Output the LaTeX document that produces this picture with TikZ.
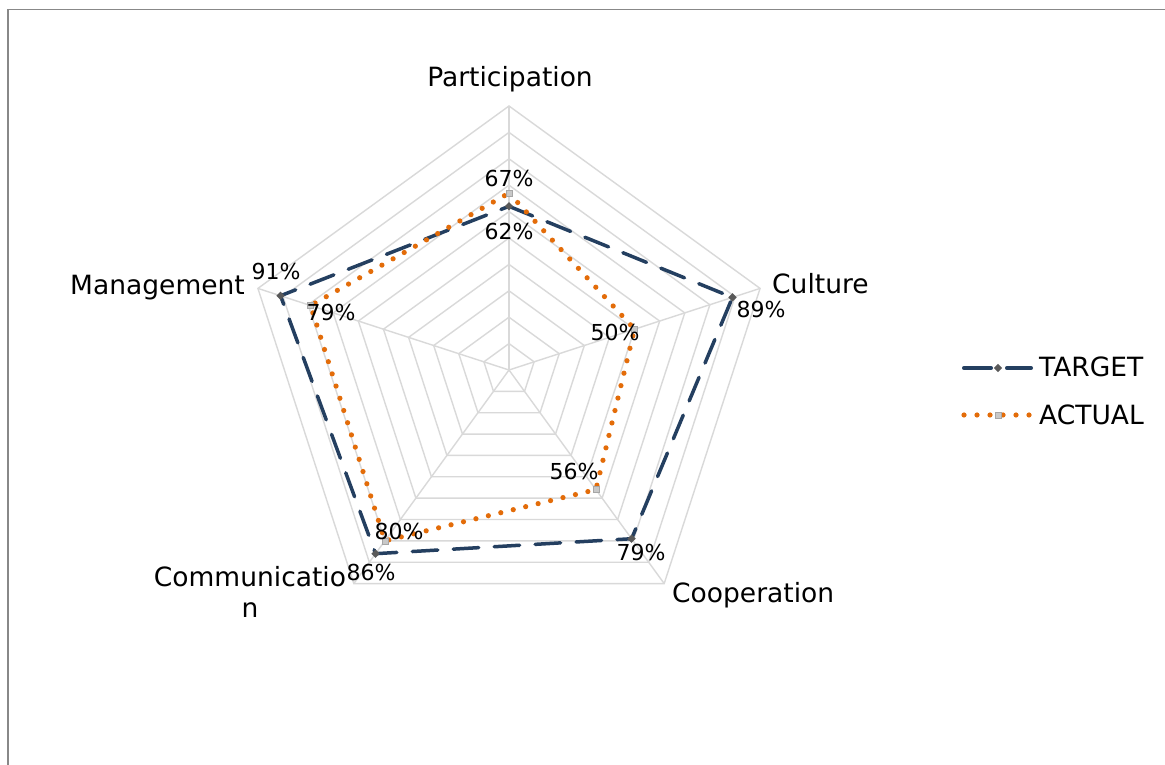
\documentclass[tikz,border=0pt]{standalone}
\usepackage{fontspec}
\setmainfont{DejaVu Sans}
\usetikzlibrary{calc,shapes.geometric}
\definecolor{gridc}{HTML}{D9D9D9}
\definecolor{navy}{HTML}{243F60}
\definecolor{orng}{HTML}{E36C09}
\definecolor{markone}{HTML}{595959}
\definecolor{marktwo}{HTML}{C8C8C8}
\definecolor{framec}{HTML}{888888}
\begin{document}
\begin{tikzpicture}[x=1pt,y=1pt,
  gridline/.style={draw=gridc, line width=1.4pt},
  tgtline/.style={draw=navy, line width=3.5pt, dash pattern=on 25.5pt off 15.5pt, line cap=round, line join=round},
  actline/.style={draw=orng, line width=5.2pt, dash pattern=on 0pt off 12.8pt, line cap=round, line join=round},
  tgtmark/.style={diamond, fill=markone, inner sep=0pt, minimum size=8.5pt},
  actmark/.style={rectangle, fill=marktwo, draw=gray!70, line width=0.5pt, inner sep=0pt, minimum size=6pt},
  catlabel/.style={font=\fontsize{26.5}{31}\selectfont, inner sep=0pt},
  vallabel/.style={font=\fontsize{22}{26}\selectfont, inner sep=0pt, text height=15.5pt, text depth=0pt, anchor=center},
  legtext/.style={font=\fontsize{26.5}{31}\selectfont, inner sep=0pt, anchor=base west}
]
\useasboundingbox (0,0) rectangle (1165,765);
\fill[white] (0,0) rectangle (1165,765);
% chart frame
\draw[draw=framec, line width=1.6pt] (7.7,0) -- (7.7,755.3) -- (1165,755.3);

% grid
\begin{scope}[shift={(509,395)}]
  \foreach \k in {1,...,10}{
    \pgfmathsetmacro\rr{\k*26.4}
    \draw[gridline] (90:\rr) -- (18:\rr) -- (-54:\rr) -- (-126:\rr) -- (162:\rr) -- cycle;
  }
  \foreach \a in {90,18,-54,-126,162}
    \draw[gridline] (0,0) -- (\a:264);

  % data points
  \coordinate (t1) at (90:163.68);
  \coordinate (t2) at (18:234.96);
  \coordinate (t3) at (-54:208.56);
  \coordinate (t4) at (-126:227.04);
  \coordinate (t5) at (162:240.24);
  \coordinate (a1) at (90:176.88);
  \coordinate (a2) at (18:132);
  \coordinate (a3) at (-54:147.84);
  \coordinate (a4) at (-126:211.2);
  \coordinate (a5) at (162:208.56);
\end{scope}

% TARGET series
\draw[tgtline] (t1) -- (t2) -- (t3) -- (t4) -- (t5) -- cycle;
\foreach \i in {1,...,5} \node[tgtmark] (mt\i) at (t\i) {};

% ACTUAL series
\draw[actline] (a1) -- (a2) -- (a3) -- (a4) -- (a5) -- cycle;
\foreach \i in {1,...,5} \node[actmark] (ma\i) at (a\i) {};

% data labels
\node[vallabel] (lt1) at (509,533) {62\%};
\node[vallabel] (la1) at (509,586) {67\%};
\node[vallabel] (lt2) at (761,455) {89\%};
\node[vallabel] (la2) at (615,432) {50\%};
\node[vallabel] (lt3) at (641,212) {79\%};
\node[vallabel] (la3) at (574,293) {56\%};
\node[vallabel] (lt4) at (371,192) {86\%};
\node[vallabel] (la4) at (399,233) {80\%};
\node[vallabel] (lt5) at (276,493) {91\%};
\node[vallabel] (la5) at (331,452) {79\%};

% category labels
\node[catlabel, anchor=base] (cpart) at (510,678) {Participation};
\node[catlabel, anchor=base west] (ccult) at (772,471) {Culture};
\node[catlabel, anchor=base west] (ccoop) at (672,162) {Cooperation};
\node[catlabel, anchor=base east] (cmgmt) at (245,470) {Management};
\node[catlabel, anchor=base, align=center] (ccomm) at (250,147) {Communicatio\\n};

% legend
\coordinate (lgt1) at (963.75,397);
\coordinate (lgt2) at (1031.25,397);
\draw[tgtline, dash pattern=on 27.5pt off 15.5pt] (lgt1) -- (lgt2);
\node[tgtmark] (lgtm) at (998,397) {};
\node[legtext] (lgtt) at (1039,388) {TARGET};
\coordinate (lga1) at (964,350);
\coordinate (lga2) at (1030,350);
\draw[actline, dash pattern=on 0pt off 13pt] (lga1) -- (lga2);
\node[actmark] (lgam) at (998,350) {};
\node[legtext] (lgat) at (1039,340) {ACTUAL};
\end{tikzpicture}
\end{document}
